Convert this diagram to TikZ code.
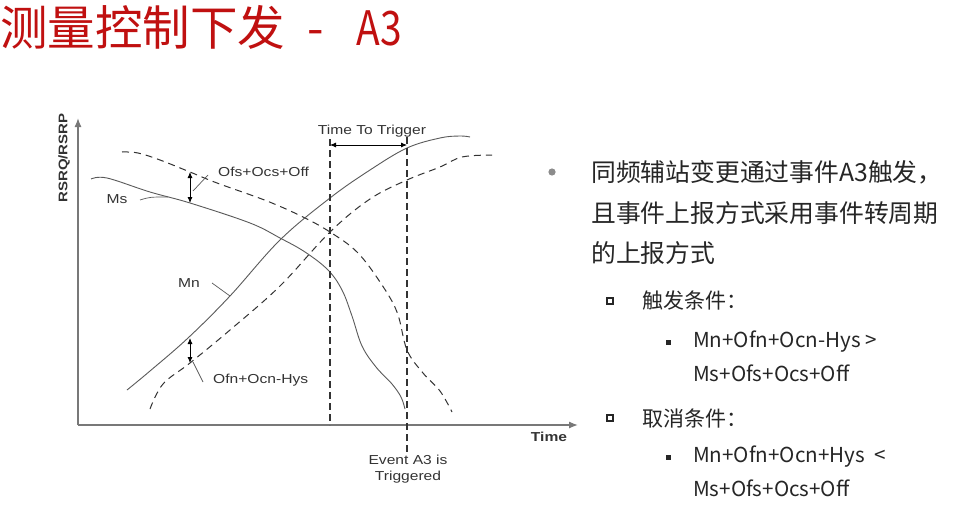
\documentclass[tikz,border=0pt]{standalone}
\usepackage{fontspec}
\setmainfont{Liberation Sans}
\newfontfamily\cjk{Noto Sans CJK SC}
\newfontfamily\gfont[FakeStretch=1.2]{Liberation Sans}
\usetikzlibrary{arrows.meta}
\definecolor{titlered}{RGB}{192,16,16}
\definecolor{txt}{RGB}{38,38,38}
\definecolor{curve}{RGB}{90,90,90}
\definecolor{axisgray}{RGB}{120,120,120}
\tikzset{
  solidcurve/.style={draw=curve, line width=0.9pt},
  dashcurve/.style={draw=black!80, line width=1pt, dash pattern=on 7pt off 5pt},
  vline/.style={draw=black!80, line width=1.1pt, dash pattern=on 7pt off 4pt},
  axisline/.style={draw=axisgray, line width=1.3pt},
  dimarrow/.style={draw=black, line width=0.8pt, {Latex[length=6pt,width=5pt]}-{Latex[length=6pt,width=5pt]}},
  leader/.style={draw=curve, line width=0.7pt},
  glabel/.style={font=\gfont\fontsize{13}{15}\selectfont, text=black!80, inner sep=0pt},
  rtext/.style={font=\cjk\fontsize{24.8}{24.8}\selectfont, text=txt, anchor=west, inner sep=0pt},
  rsub/.style={font=\cjk\fontsize{21}{21}\selectfont, text=txt, anchor=west, inner sep=0pt},
  rform/.style={font=\cjk\fontsize{20.6}{20.6}\selectfont, text=txt, anchor=west, inner sep=0pt},
}
\begin{document}
\begin{tikzpicture}[x=1pt,y=-1pt]
\useasboundingbox[fill=white] (0,0) rectangle (956,527);
% title
\node[anchor=west, inner sep=0pt, text=titlered, font=\cjk\fontsize{47.5}{47.5}\selectfont] (title) at (0,27) {测量控制下发\hspace{22pt}-\hspace{33pt}\scalebox{0.82}[1]{A3}};

% axes
\coordinate (origin) at (78,425);
\coordinate (ytop) at (78,118);
\coordinate (xend) at (578,425);
\draw[axisline, -{Latex[length=9pt,width=7pt]}] (origin) -- (xend);
\draw[axisline, -{Latex[length=9pt,width=7pt]}] (origin) -- (ytop);
\node[glabel, font=\gfont\bfseries\fontsize{12.5}{14}\selectfont, rotate=90] (ylab) at (64,158) {RSRQ/RSRP};
\node[glabel, font=\gfont\bfseries\fontsize{13}{15}\selectfont] (xlab) at (549,437) {Time};

% Ms curves
\draw[solidcurve] plot[smooth, tension=0.6] coordinates {(91,179) (107,178) (150,192) (190,203) (250,223) (280,238) (305,252) (328,270) (342,290) (352,316) (362,346) (376,367) (392,384) (401,397) (405,409)};
\draw[dashcurve] plot[smooth, tension=0.6] coordinates {(122,152) (138,153) (160,160) (190,172) (217,183) (267,201) (303,217) (330,232) (357,252) (380,282) (397,312) (407,350) (423,373) (440,391) (452,412)};
% Mn curves
\draw[solidcurve] plot[smooth, tension=0.6] coordinates {(127,390) (150,371) (188,338) (230,296) (280,240) (330,198) (370,170) (407,148) (440,138) (460,136) (470,137)};
\draw[dashcurve] plot[smooth, tension=0.6] coordinates {(150,409) (163,384) (190,363) (230,330) (280,286) (330,232) (370,199) (407,180) (440,167) (462,157) (492,155)};

% trigger lines
\coordinate (t1top) at (330,139);
\coordinate (t1bot) at (330,425);
\coordinate (t2top) at (407,137);
\coordinate (t2bot) at (407,456);
\draw[vline] (t1top) -- (t1bot);
\draw[vline] (t2top) -- (t2bot);
\coordinate (tta) at (330,145);
\coordinate (ttb) at (407,145);
\draw[dimarrow] (tta) -- (ttb);
\node[glabel] (ttt) at (372,131) {Time To Trigger};
\node[glabel, align=center, font=\gfont\fontsize{13}{15.5}\selectfont] (event) at (408,469) {Event A3 is\\Triggered};

% offsets
\coordinate (oa) at (190,172);
\coordinate (ob) at (190,203);
\draw[dimarrow] (oa) -- (ob);
\coordinate (oc) at (190,338);
\coordinate (od) at (190,363);
\draw[dimarrow] (oc) -- (od);

\node[glabel, anchor=west] (ofs) at (218,172) {Ofs+Ocs+Off};
\node[glabel, anchor=west] (ofn) at (213,380) {Ofn+Ocn-Hys};
\node[glabel] (ms) at (117,199) {Ms};
\node[glabel] (mn) at (189,283) {Mn};
\coordinate (l1a) at (193,191);
\coordinate (l1b) at (208,175);
\draw[leader] (l1a) -- (l1b);
\coordinate (l2a) at (193,362);
\coordinate (l2b) at (203,382);
\draw[leader] (l2a) -- (l2b);
\coordinate (l3a) at (140,200);
\coordinate (l3b) at (168,197);
\draw[leader] (l3a) .. controls (150,197) .. (l3b);
\coordinate (l4a) at (212,283);
\coordinate (l4b) at (230,296);
\draw[leader] (l4a) -- (l4b);

% right text
\fill[black!45] (552,172) circle (3.6pt);
\node[rtext] (r1) at (591,172) {同频辅站变更通过事件A3触发，};
\node[rtext] (r2) at (591,213) {且事件上报方式采用事件转周期};
\node[rtext] (r3) at (591,253) {的上报方式};

\draw[txt, line width=1.1pt] (607,298) rectangle (613,304);
\node[rsub] (s1) at (642,301) {触发条件：};
\fill[txt] (666,340) rectangle (671,345);
\node[rform] (s1a) at (693,342) {Mn+Ofn+Ocn-Hys >};
\node[rform] (s1b) at (693,373) {Ms+Ofs+Ocs+Off};

\draw[txt, line width=1.1pt] (607,415) rectangle (613,421);
\node[rsub] (s2) at (642,418) {取消条件：};
\fill[txt] (666,455) rectangle (671,460);
\node[rform] (s2a) at (693,457) {Mn+Ofn+Ocn+Hys\ \ <};
\node[rform] (s2b) at (693,488) {Ms+Ofs+Ocs+Off};
\end{tikzpicture}
\end{document}
